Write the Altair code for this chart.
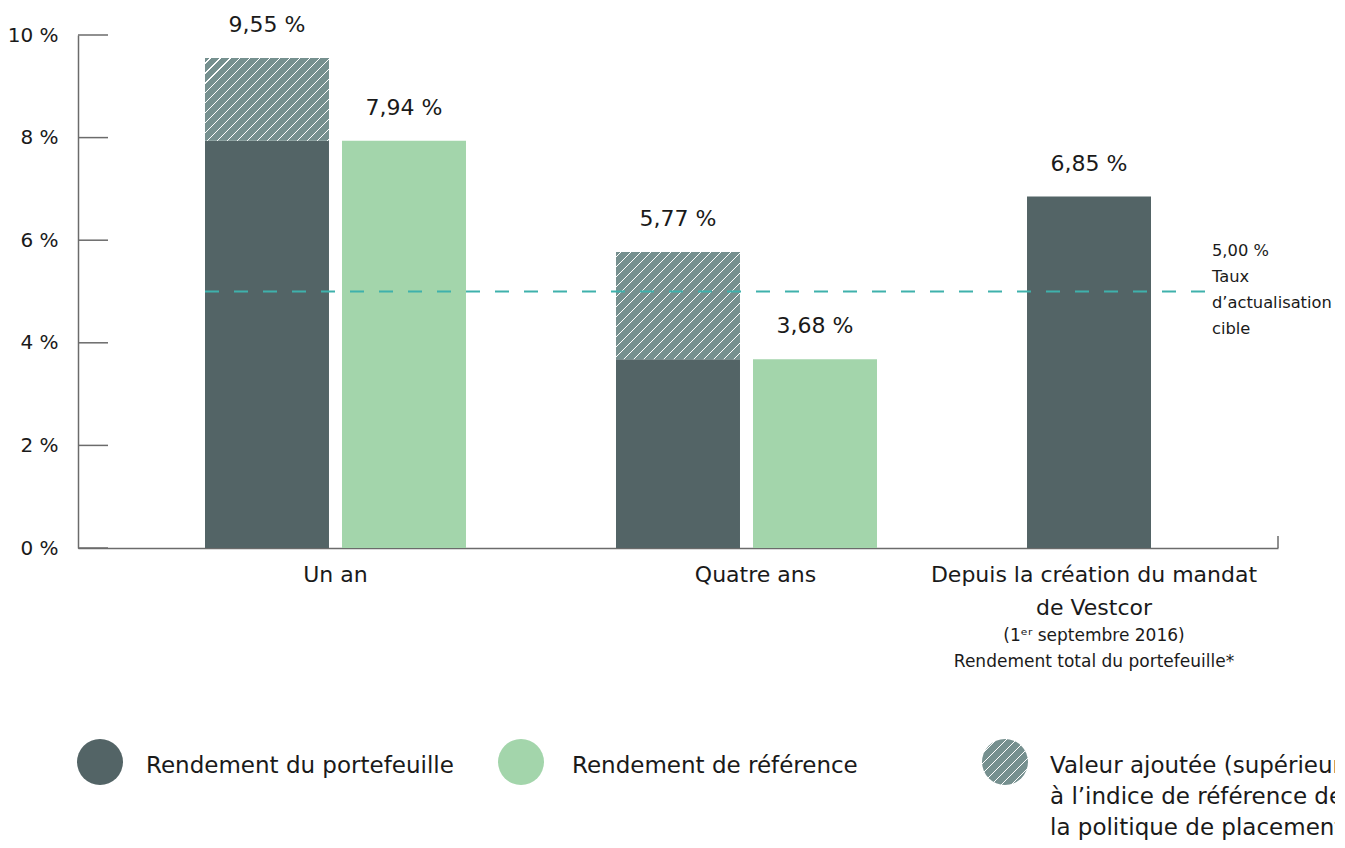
import math
import altair as alt
import pandas as pd

# ---------------- data ----------------
periods = ["Un an", "Quatre ans", "Depuis la création du mandat"]
portfolio = [9.55, 5.77, 6.85]
benchmark = [7.94, 3.68, None]
target_rate = 5.00
target_lines = ["Taux", "d’actualisation", "cible"]
y_ticks = [0, 2, 4, 6, 8, 10]
x_label_lines = [["Un an"], ["Quatre ans"], ["Depuis la création du mandat", "de Vestcor"]]
depuis_sub = ["(1ᵉʳ septembre 2016)", "Rendement total du portefeuille*"]
legend_labels = [
    ["Rendement du portefeuille"],
    ["Rendement de référence"],
    ["Valeur ajoutée (supérieure", "à l’indice de référence de", "la politique de placement)"],
]

# ---------------- style ----------------
DARK = "#536466"
GREEN = "#a3d5ab"
HATCH_BG = "#76908f"
TEAL = "#3fb1ac"
TEXT = "#1a1a1a"
AXIS = "#6b6b6b"
FONT = "DejaVu Sans"

W, H = 1200, 513
PAD_IN, PAD_OUT = 0.095, 0.927
Y_MAX = 10

slots = []
for i, p in enumerate(periods):
    slots.append(f"{p}|P")
    if benchmark[i] is not None:
        slots.append(f"{p}|R")
    if i < len(periods) - 1:
        slots.append(f"{p}|gap")
step = W / (len(slots) - PAD_IN + 2 * PAD_OUT)
bw = step * (1 - PAD_IN)
ppu = H / Y_MAX


def fmt(v):
    return f"{v:.2f}".replace(".", ",") + " %"


def hatch(w, h, period=7.07, line=1.3):
    L = (w + h) / math.sqrt(2)
    k = (w + h) / (w * w + h * h)
    stops = [alt.GradientStop(offset=0, color=HATCH_BG)]
    i = 0
    while True:
        c = (i * period + period * 0.5) / L
        a = c - line / 2 / L
        b = c + line / 2 / L
        if b >= 1:
            break
        stops += [
            alt.GradientStop(offset=a, color=HATCH_BG),
            alt.GradientStop(offset=a, color="#ffffff"),
            alt.GradientStop(offset=b, color="#ffffff"),
            alt.GradientStop(offset=b, color=HATCH_BG),
        ]
        i += 1
    stops.append(alt.GradientStop(offset=1, color=HATCH_BG))
    return alt.LinearGradient(gradient="linear", stops=stops, x1=0, y1=0, x2=k * w, y2=k * h)


dark_rows, green_rows, hatch_rows, label_rows = [], [], [], []
for i, p in enumerate(periods):
    v, b = portfolio[i], benchmark[i]
    base = v if b is None else min(v, b)
    dark_rows.append({"slot": f"{p}|P", "v": base})
    label_rows.append({"slot": f"{p}|P", "v": v, "t": fmt(v)})
    if b is not None:
        green_rows.append({"slot": f"{p}|R", "v": b})
        label_rows.append({"slot": f"{p}|R", "v": b, "t": fmt(b)})
        if v > b:
            hatch_rows.append({"slot": f"{p}|P", "lo": b, "v": v})

xscale = alt.Scale(domain=slots, paddingInner=PAD_IN, paddingOuter=PAD_OUT)
yscale = alt.Scale(domain=[0, Y_MAX], nice=False, zero=True)
xaxis = alt.Axis(labels=False, ticks=False, domain=True, domainColor=AXIS,
                 domainWidth=1.5, grid=False, title=None)
yaxis = alt.Axis(values=y_ticks, labelExpr="datum.value + ' %'", ticks=False, tickSize=0,
                 grid=False, domain=True, domainColor=AXIS, domainWidth=1.5,
                 labelFont=FONT, labelFontSize=20, labelColor=TEXT, labelPadding=20, title=None)


def X(field="slot", **kw):
    return alt.X(f"{field}:N", scale=xscale, axis=xaxis, title=None, **kw)


def Y(field="v"):
    return alt.Y(f"{field}:Q", scale=yscale, axis=yaxis, title=None)


layers = []

layers.append(alt.Chart(pd.DataFrame(dark_rows)).mark_bar(color=DARK).encode(x=X(), y=Y()))
layers.append(alt.Chart(pd.DataFrame(green_rows)).mark_bar(color=GREEN).encode(x=X(), y=Y()))
for r in hatch_rows:
    grad = hatch(bw, (r["v"] - r["lo"]) * ppu)
    layers.append(
        alt.Chart(pd.DataFrame([r])).mark_bar(color=grad).encode(x=X(), y=Y(), y2="lo:Q")
    )

# inner tick marks of the y axis
layers.append(
    alt.Chart(pd.DataFrame({"v": y_ticks})).mark_rule(color=AXIS, strokeWidth=1.5)
    .encode(y=Y(), x=alt.value(0), x2=alt.value(30))
)
# small end tick of x axis
layers.append(
    alt.Chart(pd.DataFrame({"v": [0]})).mark_rule(color=AXIS, strokeWidth=1.5)
    .encode(x=alt.value(W), y=alt.value(H - 12), y2=alt.value(H))
)

# target discount rate line
layers.append(
    alt.Chart(pd.DataFrame({"v": [target_rate]})).mark_rule(color=TEAL, strokeWidth=2, strokeDash=[14, 15])
    .encode(y=Y(), x=alt.value(127), x2=alt.value(1127))
)
layers.append(
    alt.Chart(pd.DataFrame({"v": [target_rate]}))
    .mark_text(text=[fmt(target_rate)] + target_lines, align="left", baseline="alphabetic",
               font=FONT, fontSize=16.3, lineHeight=26, color=TEXT, dy=-35.5)
    .encode(y=Y(), x=alt.value(1134))
)

# value labels
layers.append(
    alt.Chart(pd.DataFrame(label_rows))
    .mark_text(align="center", baseline="alphabetic", font=FONT, fontSize=22, color=TEXT, dy=-26)
    .encode(x=X(), y=Y(), text="t:N")
)

# category labels
x_dx = [0, 9, 5]
for i, p in enumerate(periods):
    two = benchmark[i] is not None
    bp = 1 if two else 0.5
    extra = (step - bw) / 2 if two else 0
    layers.append(
        alt.Chart(pd.DataFrame([{"slot": f"{p}|P"}]))
        .mark_text(text=x_label_lines[i], align="center", baseline="alphabetic", font=FONT,
                   fontSize=22, lineHeight=33, color=TEXT, dx=x_dx[i] + extra)
        .encode(x=X(bandPosition=bp), y=alt.value(H + 34))
    )
    if not two:
        layers.append(
            alt.Chart(pd.DataFrame([{"slot": f"{p}|P"}]))
            .mark_text(text=depuis_sub, align="center", baseline="alphabetic", font=FONT,
                       fontSize=17, lineHeight=26, color=TEXT, dx=x_dx[i] + extra)
            .encode(x=X(bandPosition=bp), y=alt.value(H + 93))
        )

# legend
leg_fill = [DARK, GREEN, hatch(46, 46)]
leg_cx = [22, 443, 927]
leg_tx = [68, 494, 972]
for fill, cx, tx, lab in zip(leg_fill, leg_cx, leg_tx, legend_labels):
    layers.append(
        alt.Chart(pd.DataFrame({"v": [0]})).mark_circle(size=2116, opacity=1, color=fill)
        .encode(x=alt.value(cx), y=alt.value(727))
    )
    layers.append(
        alt.Chart(pd.DataFrame({"v": [0]}))
        .mark_text(text=lab, align="left", baseline="alphabetic", font=FONT, fontSize=23,
                   lineHeight=31, color=TEXT)
        .encode(x=alt.value(tx), y=alt.value(738))
    )

chart = (
    alt.layer(*layers)
    .properties(
        width=W,
        height=H,
        padding={"left": 70, "top": 27, "right": 57, "bottom": 292},
        autosize=alt.AutoSizeParams(type="none"),
    )
    .configure_view(stroke=None)
)

chart.save("out.html", embed_options={"renderer": "svg", "actions": False})
